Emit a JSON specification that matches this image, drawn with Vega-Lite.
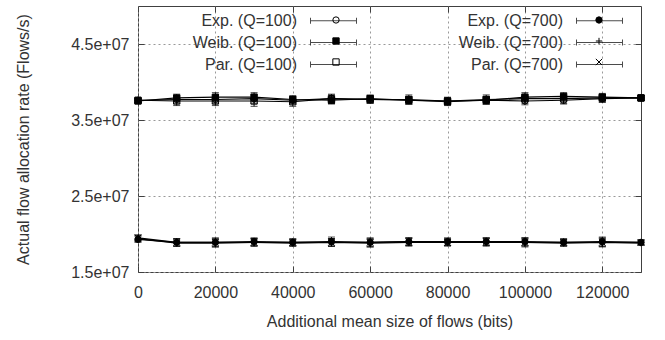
{
  "$schema": "https://vega.github.io/schema/vega-lite/v6.json",
  "autosize": {"type": "none"},
  "padding": {"left": 138, "top": 6, "right": 24, "bottom": 68},
  "width": 503,
  "height": 266,
  "background": "white",
  "config": {
    "font": "Liberation Sans",
    "view": {"stroke": "#404040", "strokeWidth": 1},
    "axis": {
      "labelFont": "Liberation Sans",
      "labelFontSize": 16,
      "labelColor": "#333333",
      "titleFont": "Liberation Sans",
      "titleFontSize": 16,
      "titleFontWeight": "normal",
      "titleColor": "#333333",
      "domain": false,
      "tickColor": "#404040",
      "tickSize": -6,
      "gridColor": "#999999",
      "gridDash": [2, 3]
    },
    "legend": {
      "labelFont": "Liberation Sans",
      "labelFontSize": 16,
      "labelColor": "#333333",
      "padding": 0
    }
  },
  "datasets": {
    "rates": [
      {"s": "Exp. (Q=100)", "x": 0, "y": 37600000, "lo": 37300000, "hi": 37900000},
      {"s": "Exp. (Q=100)", "x": 10000, "y": 37700000, "lo": 37200000, "hi": 38200000},
      {"s": "Exp. (Q=100)", "x": 20000, "y": 37700000, "lo": 37200000, "hi": 38200000},
      {"s": "Exp. (Q=100)", "x": 30000, "y": 37800000, "lo": 37200000, "hi": 38400000},
      {"s": "Exp. (Q=100)", "x": 40000, "y": 37600000, "lo": 37100000, "hi": 38100000},
      {"s": "Exp. (Q=100)", "x": 50000, "y": 37800000, "lo": 37300000, "hi": 38300000},
      {"s": "Exp. (Q=100)", "x": 60000, "y": 37700000, "lo": 37200000, "hi": 38200000},
      {"s": "Exp. (Q=100)", "x": 70000, "y": 37600000, "lo": 37100000, "hi": 38100000},
      {"s": "Exp. (Q=100)", "x": 80000, "y": 37500000, "lo": 37100000, "hi": 37900000},
      {"s": "Exp. (Q=100)", "x": 90000, "y": 37600000, "lo": 37100000, "hi": 38100000},
      {"s": "Exp. (Q=100)", "x": 100000, "y": 37500000, "lo": 37000000, "hi": 38000000},
      {"s": "Exp. (Q=100)", "x": 110000, "y": 37600000, "lo": 37100000, "hi": 38100000},
      {"s": "Exp. (Q=100)", "x": 120000, "y": 37800000, "lo": 37300000, "hi": 38300000},
      {"s": "Exp. (Q=100)", "x": 130000, "y": 37900000, "lo": 37600000, "hi": 38200000},
      {"s": "Weib. (Q=100)", "x": 0, "y": 37500000, "lo": 37200000, "hi": 37800000},
      {"s": "Weib. (Q=100)", "x": 10000, "y": 37900000, "lo": 37400000, "hi": 38400000},
      {"s": "Weib. (Q=100)", "x": 20000, "y": 38000000, "lo": 37400000, "hi": 38600000},
      {"s": "Weib. (Q=100)", "x": 30000, "y": 38000000, "lo": 37400000, "hi": 38600000},
      {"s": "Weib. (Q=100)", "x": 40000, "y": 37700000, "lo": 37200000, "hi": 38200000},
      {"s": "Weib. (Q=100)", "x": 50000, "y": 37600000, "lo": 37100000, "hi": 38100000},
      {"s": "Weib. (Q=100)", "x": 60000, "y": 37800000, "lo": 37300000, "hi": 38300000},
      {"s": "Weib. (Q=100)", "x": 70000, "y": 37600000, "lo": 37100000, "hi": 38100000},
      {"s": "Weib. (Q=100)", "x": 80000, "y": 37400000, "lo": 36900000, "hi": 37900000},
      {"s": "Weib. (Q=100)", "x": 90000, "y": 37600000, "lo": 37100000, "hi": 38100000},
      {"s": "Weib. (Q=100)", "x": 100000, "y": 38000000, "lo": 37400000, "hi": 38600000},
      {"s": "Weib. (Q=100)", "x": 110000, "y": 38100000, "lo": 37600000, "hi": 38600000},
      {"s": "Weib. (Q=100)", "x": 120000, "y": 38000000, "lo": 37500000, "hi": 38500000},
      {"s": "Weib. (Q=100)", "x": 130000, "y": 37900000, "lo": 37600000, "hi": 38200000},
      {"s": "Par. (Q=100)", "x": 0, "y": 37600000, "lo": 37300000, "hi": 37900000},
      {"s": "Par. (Q=100)", "x": 10000, "y": 37500000, "lo": 36900000, "hi": 38100000},
      {"s": "Par. (Q=100)", "x": 20000, "y": 37500000, "lo": 36900000, "hi": 38100000},
      {"s": "Par. (Q=100)", "x": 30000, "y": 37500000, "lo": 36800000, "hi": 38200000},
      {"s": "Par. (Q=100)", "x": 40000, "y": 37400000, "lo": 36800000, "hi": 38000000},
      {"s": "Par. (Q=100)", "x": 50000, "y": 37800000, "lo": 37200000, "hi": 38400000},
      {"s": "Par. (Q=100)", "x": 60000, "y": 37700000, "lo": 37200000, "hi": 38200000},
      {"s": "Par. (Q=100)", "x": 70000, "y": 37700000, "lo": 37100000, "hi": 38300000},
      {"s": "Par. (Q=100)", "x": 80000, "y": 37500000, "lo": 37000000, "hi": 38000000},
      {"s": "Par. (Q=100)", "x": 90000, "y": 37700000, "lo": 37100000, "hi": 38300000},
      {"s": "Par. (Q=100)", "x": 100000, "y": 37800000, "lo": 37200000, "hi": 38400000},
      {"s": "Par. (Q=100)", "x": 110000, "y": 37800000, "lo": 37200000, "hi": 38400000},
      {"s": "Par. (Q=100)", "x": 120000, "y": 37900000, "lo": 37400000, "hi": 38400000},
      {"s": "Par. (Q=100)", "x": 130000, "y": 37900000, "lo": 37600000, "hi": 38200000},
      {"s": "Exp. (Q=700)", "x": 0, "y": 19300000, "lo": 18900000, "hi": 19700000},
      {"s": "Exp. (Q=700)", "x": 10000, "y": 18900000, "lo": 18400000, "hi": 19400000},
      {"s": "Exp. (Q=700)", "x": 20000, "y": 18900000, "lo": 18400000, "hi": 19400000},
      {"s": "Exp. (Q=700)", "x": 30000, "y": 19000000, "lo": 18500000, "hi": 19500000},
      {"s": "Exp. (Q=700)", "x": 40000, "y": 18900000, "lo": 18500000, "hi": 19300000},
      {"s": "Exp. (Q=700)", "x": 50000, "y": 19000000, "lo": 18400000, "hi": 19600000},
      {"s": "Exp. (Q=700)", "x": 60000, "y": 18900000, "lo": 18400000, "hi": 19400000},
      {"s": "Exp. (Q=700)", "x": 70000, "y": 19000000, "lo": 18500000, "hi": 19500000},
      {"s": "Exp. (Q=700)", "x": 80000, "y": 19000000, "lo": 18500000, "hi": 19500000},
      {"s": "Exp. (Q=700)", "x": 90000, "y": 19000000, "lo": 18500000, "hi": 19500000},
      {"s": "Exp. (Q=700)", "x": 100000, "y": 19000000, "lo": 18500000, "hi": 19500000},
      {"s": "Exp. (Q=700)", "x": 110000, "y": 18900000, "lo": 18500000, "hi": 19300000},
      {"s": "Exp. (Q=700)", "x": 120000, "y": 19000000, "lo": 18400000, "hi": 19600000},
      {"s": "Exp. (Q=700)", "x": 130000, "y": 18900000, "lo": 18600000, "hi": 19200000},
      {"s": "Weib. (Q=700)", "x": 0, "y": 19400000, "lo": 19000000, "hi": 19800000},
      {"s": "Weib. (Q=700)", "x": 10000, "y": 18800000, "lo": 18400000, "hi": 19200000},
      {"s": "Weib. (Q=700)", "x": 20000, "y": 18800000, "lo": 18300000, "hi": 19300000},
      {"s": "Weib. (Q=700)", "x": 30000, "y": 18900000, "lo": 18400000, "hi": 19400000},
      {"s": "Weib. (Q=700)", "x": 40000, "y": 18800000, "lo": 18400000, "hi": 19200000},
      {"s": "Weib. (Q=700)", "x": 50000, "y": 18900000, "lo": 18400000, "hi": 19400000},
      {"s": "Weib. (Q=700)", "x": 60000, "y": 18800000, "lo": 18300000, "hi": 19300000},
      {"s": "Weib. (Q=700)", "x": 70000, "y": 18900000, "lo": 18400000, "hi": 19400000},
      {"s": "Weib. (Q=700)", "x": 80000, "y": 18900000, "lo": 18500000, "hi": 19300000},
      {"s": "Weib. (Q=700)", "x": 90000, "y": 18900000, "lo": 18400000, "hi": 19400000},
      {"s": "Weib. (Q=700)", "x": 100000, "y": 18900000, "lo": 18400000, "hi": 19400000},
      {"s": "Weib. (Q=700)", "x": 110000, "y": 18800000, "lo": 18400000, "hi": 19200000},
      {"s": "Weib. (Q=700)", "x": 120000, "y": 18900000, "lo": 18400000, "hi": 19400000},
      {"s": "Weib. (Q=700)", "x": 130000, "y": 18800000, "lo": 18500000, "hi": 19100000},
      {"s": "Par. (Q=700)", "x": 0, "y": 19500000, "lo": 19100000, "hi": 19900000},
      {"s": "Par. (Q=700)", "x": 10000, "y": 18900000, "lo": 18400000, "hi": 19400000},
      {"s": "Par. (Q=700)", "x": 20000, "y": 18900000, "lo": 18300000, "hi": 19500000},
      {"s": "Par. (Q=700)", "x": 30000, "y": 18900000, "lo": 18400000, "hi": 19400000},
      {"s": "Par. (Q=700)", "x": 40000, "y": 18900000, "lo": 18400000, "hi": 19400000},
      {"s": "Par. (Q=700)", "x": 50000, "y": 18900000, "lo": 18400000, "hi": 19400000},
      {"s": "Par. (Q=700)", "x": 60000, "y": 18900000, "lo": 18300000, "hi": 19500000},
      {"s": "Par. (Q=700)", "x": 70000, "y": 19000000, "lo": 18500000, "hi": 19500000},
      {"s": "Par. (Q=700)", "x": 80000, "y": 18900000, "lo": 18400000, "hi": 19400000},
      {"s": "Par. (Q=700)", "x": 90000, "y": 19000000, "lo": 18500000, "hi": 19500000},
      {"s": "Par. (Q=700)", "x": 100000, "y": 18900000, "lo": 18300000, "hi": 19500000},
      {"s": "Par. (Q=700)", "x": 110000, "y": 18900000, "lo": 18400000, "hi": 19400000},
      {"s": "Par. (Q=700)", "x": 120000, "y": 18900000, "lo": 18300000, "hi": 19500000},
      {"s": "Par. (Q=700)", "x": 130000, "y": 18900000, "lo": 18600000, "hi": 19200000}
    ]
  },
  "data": {"name": "rates"},
  "layer": [
    {
      "mark": {"type": "line", "color": "black", "strokeWidth": 1.2},
      "encoding": {
        "x": {
          "field": "x", "type": "quantitative",
          "scale": {"domain": [0, 130000], "nice": false, "zero": false},
          "axis": {
            "orient": "bottom",
            "values": [0, 20000, 40000, 60000, 80000, 100000, 120000],
            "format": "d",
            "grid": true,
            "labelPadding": 18,
            "labelFlush": false,
            "title": "Additional mean size of flows (bits)",
            "titleBaseline": "alphabetic",
            "titleY": 54
          }
        },
        "y": {
          "field": "y", "type": "quantitative",
          "scale": {"domain": [15000000, 50000000], "nice": false, "zero": false},
          "axis": {
            "orient": "left",
            "values": [15000000, 25000000, 35000000, 45000000],
            "labelExpr": "replace(format(datum.value, '.1e'), 'e+', 'e+0')",
            "grid": true,
            "labelPadding": 15,
            "labelFlush": false,
            "title": "Actual flow allocation rate (Flows/s)",
            "titleX": -107
          }
        },
        "detail": {"field": "s"},
        "order": {"field": "x"}
      }
    },
    {
      "mark": {"type": "errorbar", "ticks": {"size": 7}, "rule": {"strokeWidth": 1}},
      "encoding": {
        "x": {"field": "x", "type": "quantitative", "axis": null},
        "y": {"field": "lo", "type": "quantitative", "axis": null},
        "y2": {"field": "hi"},
        "color": {
          "field": "s", "type": "nominal",
          "sort": ["Exp. (Q=100)", "Weib. (Q=100)", "Par. (Q=100)", "Exp. (Q=700)", "Weib. (Q=700)", "Par. (Q=700)"],
          "scale": {
            "range": ["black", "black", "black", "black", "black", "black"]
          },
          "legend": {
            "orient": "none",
            "legendX": 187,
            "legendY": 6,
            "columns": 2,
            "columnPadding": 99,
            "rowPadding": 5,
            "title": null,
            "symbolType": "M-2.875,0H2.875M-2.875,-0.375V0.375M2.875,-0.375V0.375",
            "symbolSize": 256,
            "symbolStrokeWidth": 1,
            "symbolStrokeColor": "black",
            "symbolFillColor": "transparent",
            "labelAlign": "right",
            "labelOffset": -45
          }
        }
      }
    },
    {
      "mark": {"type": "point", "stroke": "black", "strokeWidth": 1, "size": 40, "opacity": 1},
      "encoding": {
        "x": {
          "field": "x", "type": "quantitative",
          "axis": {"orient": "top", "values": [0, 20000, 40000, 60000, 80000, 100000, 120000], "labels": false, "grid": false, "title": null}
        },
        "y": {
          "field": "y", "type": "quantitative",
          "axis": {"orient": "right", "values": [15000000, 25000000, 35000000, 45000000], "labels": false, "grid": false, "title": null}
        },
        "shape": {
          "field": "s", "type": "nominal",
          "scale": {
            "domain": ["Exp. (Q=100)", "Weib. (Q=100)", "Par. (Q=100)", "Exp. (Q=700)", "Weib. (Q=700)", "Par. (Q=700)"],
            "range": ["circle", "square", "square", "circle", "M-1,0H1M0,-1V1", "M-1,-1L1,1M-1,1L1,-1"]
          },
          "legend": {
            "orient": "none",
            "legendX": 190,
            "legendY": 6,
            "columns": 2,
            "columnPadding": 243,
            "rowPadding": 5,
            "title": null,
            "labelExpr": "''",
            "symbolStrokeColor": "black",
            "symbolStrokeWidth": 1,
            "symbolSize": 40
          }
        },
        "fill": {
          "field": "s", "type": "nominal",
          "scale": {
            "domain": ["Exp. (Q=100)", "Weib. (Q=100)", "Par. (Q=100)", "Exp. (Q=700)", "Weib. (Q=700)", "Par. (Q=700)"],
            "range": ["transparent", "black", "transparent", "black", "transparent", "transparent"]
          },
          "legend": {
            "orient": "none",
            "legendX": 190,
            "legendY": 6,
            "columns": 2,
            "columnPadding": 243,
            "rowPadding": 5,
            "title": null,
            "labelExpr": "''",
            "symbolStrokeColor": "black",
            "symbolStrokeWidth": 1,
            "symbolSize": 40
          }
        },
        "stroke": {
          "field": "s", "type": "nominal",
          "scale": {
            "domain": ["Exp. (Q=100)", "Weib. (Q=100)", "Par. (Q=100)", "Exp. (Q=700)", "Weib. (Q=700)", "Par. (Q=700)"],
            "range": ["black", "black", "black", "black", "black", "black"]
          },
          "legend": {
            "orient": "none",
            "legendX": 190,
            "legendY": 6,
            "columns": 2,
            "columnPadding": 243,
            "rowPadding": 5,
            "title": null,
            "labelExpr": "''",
            "symbolStrokeColor": "black",
            "symbolStrokeWidth": 1,
            "symbolSize": 40
          }
        }
      }
    }
  ],
  "resolve": {"axis": {"x": "independent", "y": "independent"}}
}
